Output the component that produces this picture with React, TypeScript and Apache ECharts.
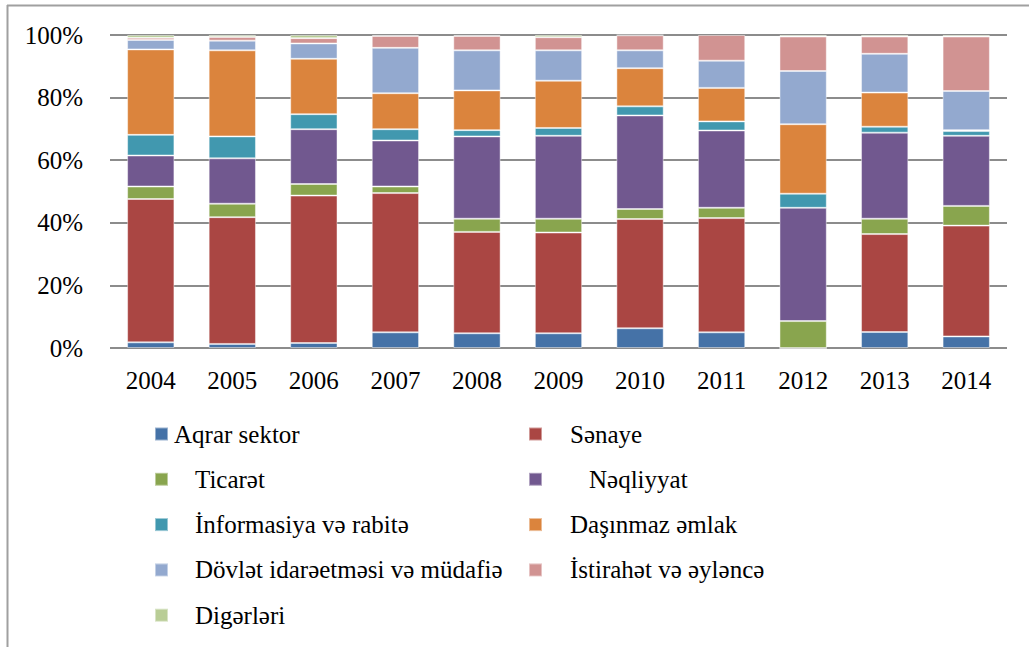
import React, { useEffect, useRef } from "react";
import * as echarts from "echarts";

const years = ["2004", "2005", "2006", "2007", "2008", "2009", "2010", "2011", "2012", "2013", "2014"];
const yTicks = [0, 20, 40, 60, 80, 100];

const seriesNames = [
  "Aqrar sektor",
  "Sənaye",
  "Ticarət",
  "Nəqliyyat",
  "İnformasiya və rabitə",
  "Daşınmaz əmlak",
  "Dövlət idarəetməsi və müdafiə",
  "İstirahət və əyləncə",
  "Digərləri",
];

const aqrar = [1.8, 1.3, 1.6, 5.0, 4.7, 4.7, 6.3, 5.0, 0, 5.1, 3.7];
const senaye = [45.8, 40.5, 47.1, 44.5, 32.4, 32.2, 34.9, 36.5, 0, 31.3, 35.4];
const ticaret = [4.0, 4.3, 3.7, 2.1, 4.2, 4.4, 3.2, 3.3, 8.6, 4.9, 6.3];
const neqliyyat = [9.9, 14.5, 17.5, 14.7, 26.3, 26.5, 29.9, 24.7, 36.2, 27.5, 22.4];
const informasiya = [6.6, 7.0, 4.8, 3.6, 2.0, 2.5, 2.9, 2.9, 4.5, 1.9, 1.5];
const dasinmaz = [27.3, 27.5, 17.7, 11.5, 12.7, 15.1, 12.2, 10.7, 22.2, 10.9, 0.3];
const dovlet = [3.0, 3.1, 4.9, 14.5, 12.8, 9.7, 5.7, 8.7, 17.0, 12.4, 12.5];
const istirahet = [0.7, 1.2, 1.7, 3.8, 4.6, 4.2, 4.8, 8.2, 11.0, 5.5, 17.4];
const digerleri = [0.9, 0.6, 1.0, 0.3, 0.3, 0.7, 0.1, 0.1, 0.5, 0.5, 0.5];

const seriesData = [aqrar, senaye, ticaret, neqliyyat, informasiya, dasinmaz, dovlet, istirahet, digerleri];
const colors = ["#4572A7", "#AA4643", "#89A54E", "#71588F", "#4198AF", "#DB843D", "#93A9CF", "#D19392", "#B9CD96"];

// legend groups: [items, left, row index, extra text indent]
const legendGroups: [string[], number, number, number][] = [
  [[seriesNames[0]], 149, 0, 1],
  [[seriesNames[2], seriesNames[4], seriesNames[6], seriesNames[8]], 149, 1, 22],
  [[seriesNames[1]], 523, 0, 23],
  [[seriesNames[3]], 523, 1, 42],
  [[seriesNames[5], seriesNames[7]], 523, 2, 23],
];

const FONT = "Liberation Serif";

export default function App() {
  const ref = useRef<HTMLDivElement>(null);
  useEffect(() => {
    if (!ref.current) return;
    const chart = echarts.init(ref.current, null, { renderer: "svg" });
    const rowH = 45.3;
    chart.setOption({
      animation: false,
      color: colors,
      textStyle: { fontFamily: FONT },
      grid: { left: 110, right: 22, top: 35, bottom: 299, containLabel: false },
      xAxis: {
        type: "category",
        data: years,
        axisLine: { show: false },
        axisTick: { show: false },
        axisLabel: { fontFamily: FONT, fontSize: 25, color: "#000", margin: 20 },
      },
      yAxis: {
        type: "value",
        min: 0,
        max: 100,
        interval: 20,
        axisLine: { show: false },
        axisTick: { show: false },
        splitLine: { lineStyle: { color: "#8c8c8c", width: 2 } },
        axisLabel: {
          fontFamily: FONT,
          fontSize: 25,
          color: "#000",
          margin: 27,
          formatter: (v: number) => (yTicks.includes(v) ? v + "%" : ""),
        },
      },
      legend: legendGroups.map(([items, left, row, indent]) => ({
        data: items,
        orient: "vertical",
        left,
        top: 416 + row * rowH,
        itemWidth: 13,
        itemHeight: 13,
        itemGap: rowH - 26,
        icon: "rect",
        textStyle: {
          fontFamily: FONT,
          fontSize: 25,
          color: "#000",
          lineHeight: 26,
          padding: [0, 0, 0, indent],
        },
      })),
      graphic: [
        { type: "line", shape: { x1: 7.5, y1: 5, x2: 7.5, y2: 647 }, style: { stroke: "#a0a0a0", lineWidth: 2 } },
        { type: "line", shape: { x1: 7, y1: 5.5, x2: 1029, y2: 5.5 }, style: { stroke: "#a0a0a0", lineWidth: 2 } },
      ],
      series: seriesNames.map((name, i) => ({
        name,
        type: "bar",
        stack: "total",
        barCategoryGap: "42%",
        data: seriesData[i],
        itemStyle: { color: colors[i], borderColor: "rgba(255,255,255,0.45)", borderWidth: 1 },
      })),
    });
    return () => chart.dispose();
  }, []);
  return (
    <div
      ref={ref}
      style={{ position: "fixed", left: 0, top: 0, width: 1029, height: 647, background: "#fff" }}
    />
  );
}
